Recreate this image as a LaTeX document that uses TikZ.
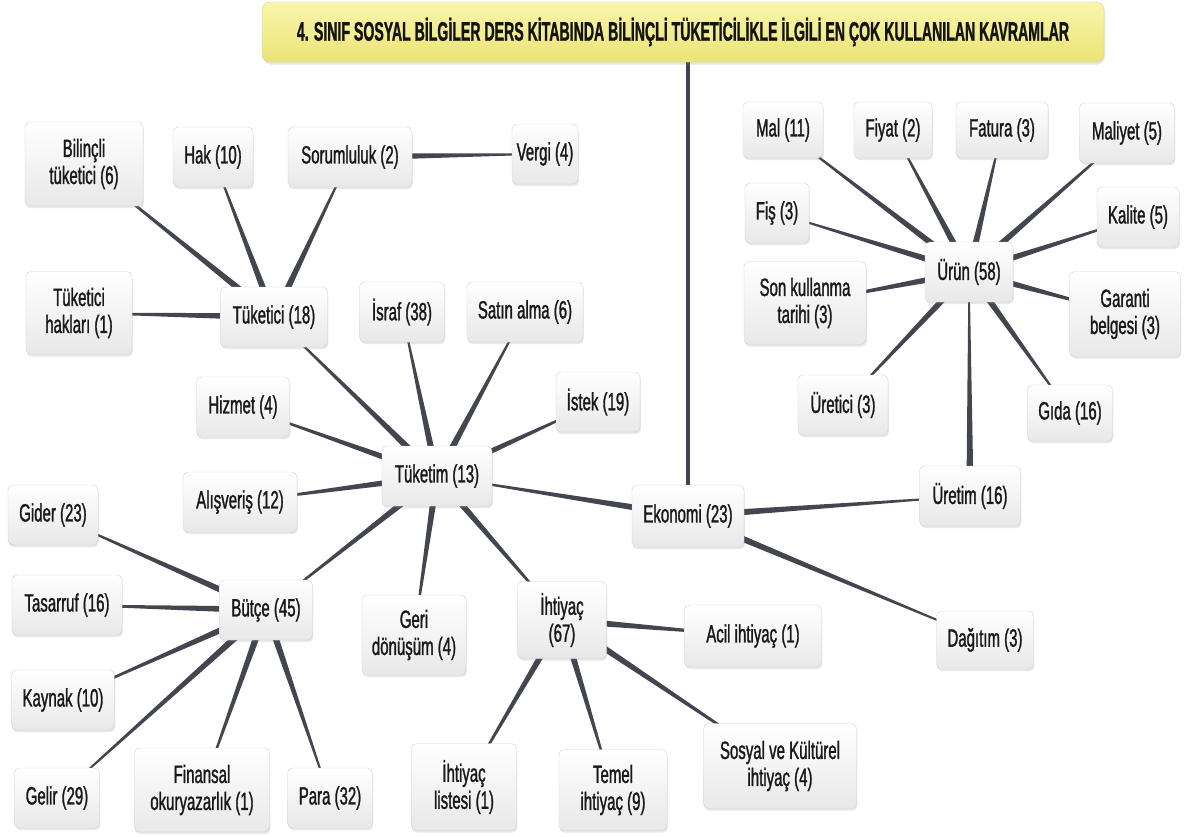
\documentclass[tikz,border=0pt]{standalone}
\usepackage{fontspec}
\usepackage{graphicx}
\setmainfont{Liberation Sans}[FakeStretch=0.6,FakeBold=1.2]
\usetikzlibrary{shadows}
\usetikzlibrary{calc}
\usetikzlibrary{backgrounds}

\definecolor{linkcol}{HTML}{43454F}
\definecolor{boxline}{HTML}{D2D2D2}
\definecolor{titletop}{HTML}{F9F6AC}
\definecolor{titlebot}{HTML}{EBE376}
\definecolor{titleline}{HTML}{D8D28E}

\begin{document}
\begin{tikzpicture}[x=1pt,y=-1pt,
	concept/.style={rectangle,rounded corners=5pt,draw=boxline,
		top color=white,bottom color=black!9,
		drop shadow={shadow xshift=0.8pt,shadow yshift=-2.2pt,opacity=0.18},
		minimum height=60pt,inner sep=4pt,align=center,text=black!90,
		font=\fontsize{25}{27}\selectfont},
	title node/.style={rectangle,rounded corners=8pt,draw=titleline,
		top color=titletop,bottom color=titlebot,
		drop shadow={shadow xshift=1pt,shadow yshift=-2.5pt,opacity=0.2},
		minimum width=842pt,minimum height=60pt,text=black!92},
	link/.style={fill=linkcol,draw=none,
		to path={($(\tikztostart)!3.6pt!90:(\tikztotarget)$)
			-- ($(\tikztotarget)!0.5pt!-90:(\tikztostart)$)
			-- ($(\tikztotarget)!0.5pt!90:(\tikztostart)$)
			-- ($(\tikztostart)!3.6pt!-90:(\tikztotarget)$) -- cycle}}]

	\useasboundingbox (0,0) rectangle (1184,836);

	% title
	\node[title node] (title) at (683,32) {\resizebox{772pt}{23pt}{\bfseries 4. SINIF SOSYAL BİLGİLER DERS KİTABINDA BİLİNÇLİ TÜKETİCİLİKLE İLGİLİ EN ÇOK KULLANILAN KAVRAMLAR}};

	% ekonomi side
	\node[concept,minimum width=112pt,minimum height=62pt] (ekonomi) at (688,516) {Ekonomi (23)};
	\node[concept,minimum width=101pt] (uretim) at (970,496) {Üretim (16)};
	\node[concept,minimum width=97pt,minimum height=58pt] (dagitim) at (985,640) {Dağıtım (3)};
	\node[concept,minimum width=88pt] (urun) at (969,272) {Ürün (58)};
	\node[concept,minimum width=80pt,minimum height=56pt] (mal) at (783,130) {Mal (11)};
	\node[concept,minimum width=78pt,minimum height=56pt] (fiyat) at (893,130) {Fiyat (2)};
	\node[concept,minimum width=92pt,minimum height=56pt] (fatura) at (1002,130) {Fatura (3)};
	\node[concept,minimum width=95pt] (maliyet) at (1127,133) {Maliyet (5)};
	\node[concept,minimum width=64pt] (fis) at (777,213) {Fiş (3)};
	\node[concept,minimum width=82pt] (kalite) at (1138,217) {Kalite (5)};
	\node[concept,minimum width=122pt,minimum height=83pt] (sonkul) at (805,303) {Son kullanma\\tarihi (3)};
	\node[concept,minimum width=111pt,minimum height=85pt] (garanti) at (1125,314) {Garanti\\belgesi (3)};
	\node[concept,minimum width=90pt] (uretici) at (843,405) {Üretici (3)};
	\node[concept,minimum width=85pt,minimum height=56pt] (gida) at (1070,413) {Gıda (16)};

	% tuketim side
	\node[concept,minimum width=110pt] (tuketim) at (437,476) {Tüketim (13)};
	\node[concept,minimum width=107pt] (tuketici) at (274,317) {Tüketici (18)};
	\node[concept,minimum width=118pt,minimum height=84pt] (bilincli) at (84,164) {Bilinçli\\tüketici (6)};
	\node[concept,minimum width=80pt] (hak) at (213,157) {Hak (10)};
	\node[concept,minimum width=124pt] (sorum) at (350,157) {Sorumluluk (2)};
	\node[concept,minimum width=66pt] (vergi) at (545,154) {Vergi (4)};
	\node[concept,minimum width=106pt,minimum height=83pt] (tukhak) at (79,313) {Tüketici\\hakları (1)};
	\node[concept,minimum width=85pt] (israf) at (402,312) {İsraf (38)};
	\node[concept,minimum width=116pt] (satin) at (525,312) {Satın alma (6)};
	\node[concept,minimum width=84pt] (istek) at (598,402) {İstek (19)};
	\node[concept,minimum width=93pt] (hizmet) at (243,407) {Hizmet (4)};
	\node[concept,minimum width=114pt] (alisveris) at (240,502) {Alışveriş (12)};
	\node[concept,minimum width=104pt,minimum height=80pt] (geri) at (414,635) {Geri\\dönüşüm (4)};

	% butce
	\node[concept,minimum width=93pt] (butce) at (266,610) {Bütçe (45)};
	\node[concept,minimum width=90pt] (gider) at (53,515) {Gider (23)};
	\node[concept,minimum width=110pt] (tasarruf) at (67,605) {Tasarruf (16)};
	\node[concept,minimum width=103pt] (kaynak) at (63,700) {Kaynak (10)};
	\node[concept,minimum width=85pt] (gelir) at (57,798) {Gelir (29)};
	\node[concept,minimum width=135pt,minimum height=84pt] (finansal) at (202,790) {Finansal\\okuryazarlık (1)};
	\node[concept,minimum width=85pt] (para) at (330,798) {Para (32)};

	% ihtiyac
	\node[concept,minimum width=89pt,minimum height=77pt] (ihtiyac) at (562,620) {İhtiyaç\\(67)};
	\node[concept,minimum width=137pt,minimum height=62pt] (acil) at (753,636) {Acil ihtiyaç (1)};
	\node[concept,minimum width=105pt,minimum height=87pt] (listesi) at (464,787) {İhtiyaç\\listesi (1)};
	\node[concept,minimum width=108pt,minimum height=81pt] (temel) at (613,790) {Temel\\ihtiyaç (9)};
	\node[concept,minimum width=153pt,minimum height=85pt] (sosyal) at (780,766) {Sosyal ve Kültürel\\ihtiyaç (4)};

	\begin{pgfonlayer}{background}
	\draw[linkcol,line width=3.5pt] (title.south -| ekonomi.north) -- (ekonomi.north);

	\path[every edge/.style={link}]
	(ekonomi) edge (tuketim) edge (uretim) edge (dagitim)
	(uretim) edge (urun)
	(urun) edge (mal) edge (fiyat) edge (fatura) edge (maliyet) edge (fis)
	       edge (kalite) edge (sonkul) edge (garanti) edge (uretici) edge (gida)
	(tuketim) edge (tuketici) edge (israf) edge (satin) edge (istek) edge (hizmet)
	          edge (alisveris) edge (geri) edge (butce) edge (ihtiyac)
	(tuketici) edge (bilincli) edge (hak) edge (sorum) edge (tukhak)
	(sorum) edge (vergi)
	(butce) edge (gider) edge (tasarruf) edge (kaynak) edge (gelir) edge (finansal) edge (para)
	(ihtiyac) edge (acil) edge (listesi) edge (temel) edge (sosyal);
	\end{pgfonlayer}
\end{tikzpicture}
\end{document}
